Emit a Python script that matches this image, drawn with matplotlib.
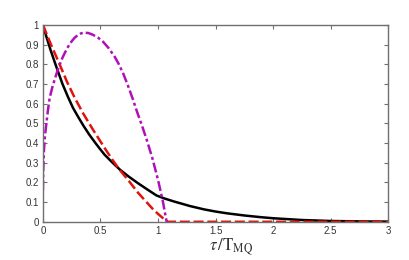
import matplotlib
matplotlib.use("Agg")
import matplotlib.pyplot as plt

plt.rcParams["mathtext.fontset"] = "stix"

# black solid curve
tau_black = [0, 0.03, 0.065, 0.1, 0.13, 0.17, 0.217, 0.26, 0.304, 0.35, 0.4,
             0.45, 0.493, 0.537, 0.6, 0.667, 0.74, 0.826, 0.9, 0.986, 1.058,
             1.145, 1.2, 1.277, 1.4, 1.5, 1.6, 1.75, 1.9, 2.0, 2.25, 2.5, 2.75, 3.0]
val_black = [1.0, 0.94, 0.875, 0.815, 0.765, 0.70, 0.635, 0.58, 0.535, 0.49, 0.445,
             0.405, 0.372, 0.34, 0.303, 0.266, 0.232, 0.196, 0.167, 0.134, 0.118,
             0.102, 0.093, 0.08, 0.063, 0.052, 0.043, 0.032, 0.023, 0.018, 0.009,
             0.004, 0.002, 0.001]

# red dashed curve
tau_red = [0, 0.07, 0.145, 0.21, 0.276, 0.35, 0.436, 0.537, 0.6, 0.667, 0.75,
           0.826, 0.9, 0.95, 1.0, 1.05, 1.087, 3.0]
val_red = [1.0, 0.90, 0.80, 0.71, 0.63, 0.55, 0.467, 0.374, 0.318, 0.264, 0.205,
           0.148, 0.10, 0.068, 0.04, 0.015, 0.0, 0.0]

# magenta dash-dot curve
tau_mag = [0, 0.002, 0.009, 0.018, 0.03, 0.043, 0.058, 0.08, 0.102, 0.125, 0.145,
           0.167, 0.189, 0.217, 0.247, 0.275, 0.304, 0.33, 0.357, 0.395, 0.435,
           0.48, 0.522, 0.57, 0.623, 0.66, 0.70, 0.74, 0.783, 0.82, 0.86, 0.9,
           0.95, 1.0, 1.04, 1.075]
val_mag = [0.16, 0.25, 0.365, 0.44, 0.5, 0.565, 0.628, 0.68, 0.723, 0.765, 0.797,
           0.83, 0.857, 0.888, 0.915, 0.935, 0.949, 0.957, 0.961, 0.959, 0.95,
           0.935, 0.915, 0.883, 0.839, 0.80, 0.75, 0.69, 0.62, 0.555, 0.49, 0.42,
           0.325, 0.213, 0.11, 0.0]

x_ticks = [0, 0.5, 1, 1.5, 2, 2.5, 3]
x_tick_labels = ["0", "0.5", "1", "1.5", "2", "2.5", "3"]
y_ticks = [0, 0.1, 0.2, 0.3, 0.4, 0.5, 0.6, 0.7, 0.8, 0.9, 1]
y_tick_labels = ["0", "0.1", "0.2", "0.3", "0.4", "0.5", "0.6", "0.7", "0.8", "0.9", "1"]

fig = plt.figure(figsize=(4.09, 2.60), dpi=100)
ax = fig.add_axes([0.105, 0.147, 0.844, 0.757])

ax.plot(tau_black, val_black, color="black", lw=1.8)
ax.plot(tau_red, val_red, color="#e0140f", lw=1.8, ls=(0, (4, 1.5)))
ax.plot(tau_mag, val_mag, color="#b010b8", lw=1.8, ls=(0, (4, 1.2, 1.2, 1.2)))

ax.set_xlim(0, 3)
ax.set_ylim(0, 1)
ax.set_xticks(x_ticks)
ax.set_xticklabels(x_tick_labels)
ax.set_yticks(y_ticks)
ax.set_yticklabels(y_tick_labels)

for spine in ax.spines.values():
    spine.set_color("#707070")
    spine.set_linewidth(1.0)

ax.tick_params(direction="in", length=3, width=0.8, color="#707070",
               top=True, right=True, labelsize=7, labelcolor="#333333", pad=3)
for lbl in ax.get_xticklabels() + ax.get_yticklabels():
    lbl.set_family("Liberation Sans")

ax.set_xlabel(r"$\tau\,/\mathrm{T}_{\mathrm{MQ}}$", fontsize=12, color="#333333",
              labelpad=1)
ax.xaxis.set_label_coords(0.545, -0.075)

fig.savefig("out.png", dpi=100)
